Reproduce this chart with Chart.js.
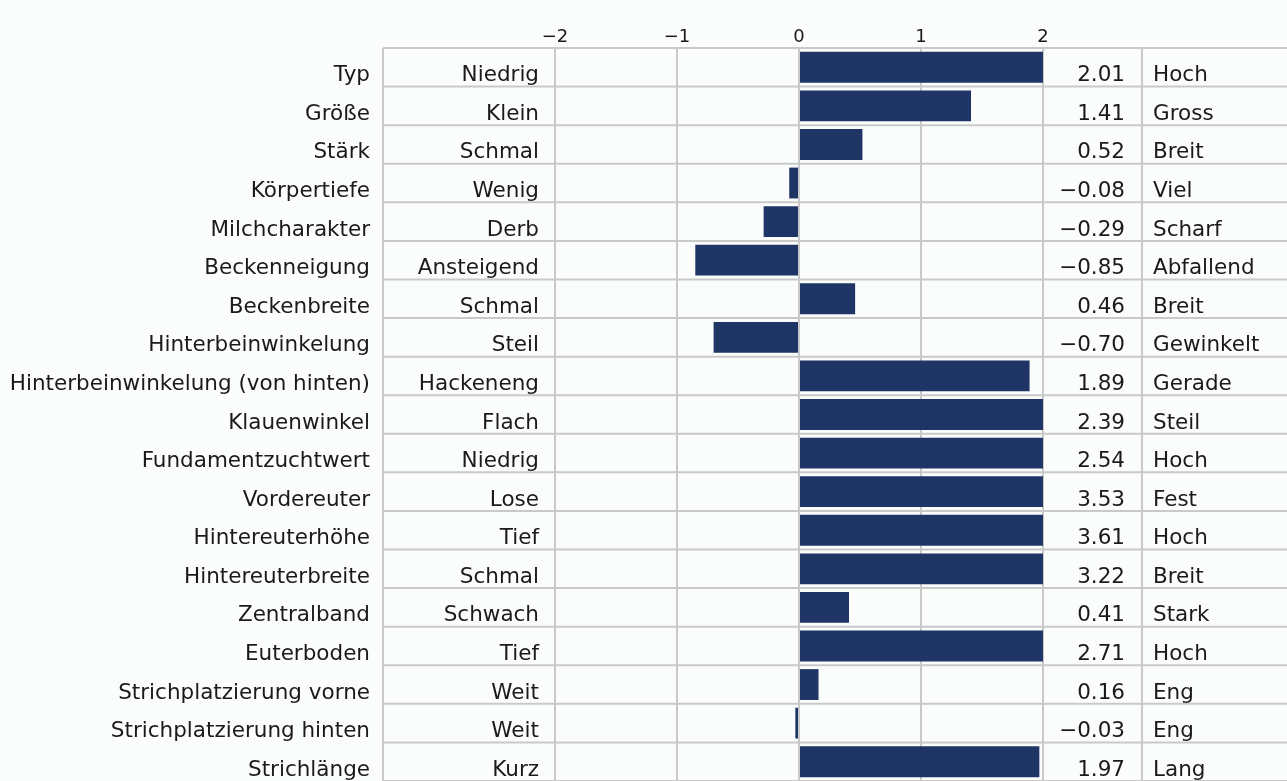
<!DOCTYPE html>
<html>
<head>
<meta charset="utf-8">
<script src="https://cdn.jsdelivr.net/npm/chart.js@4"></script>
<style>
  html, body { margin: 0; padding: 0; background: #fbfcfc; overflow: hidden; }
  #wrap { width: 1287px; height: 781px; position: relative; }
</style>
</head>
<body>
<div id="wrap"><canvas id="traitChart"></canvas></div>
<script>
    // ======== Data ========
    const traits = ['Typ', 'Größe', 'Stärk', 'Körpertiefe', 'Milchcharakter', 'Beckenneigung',
      'Beckenbreite', 'Hinterbeinwinkelung', 'Hinterbeinwinkelung (von hinten)', 'Klauenwinkel',
      'Fundamentzuchtwert', 'Vordereuter', 'Hintereuterhöhe', 'Hintereuterbreite', 'Zentralband',
      'Euterboden', 'Strichplatzierung vorne', 'Strichplatzierung hinten', 'Strichlänge'];
    const lowLabels = ['Niedrig', 'Klein', 'Schmal', 'Wenig', 'Derb', 'Ansteigend', 'Schmal', 'Steil',
      'Hackeneng', 'Flach', 'Niedrig', 'Lose', 'Tief', 'Schmal', 'Schwach', 'Tief', 'Weit', 'Weit', 'Kurz'];
    const highLabels = ['Hoch', 'Gross', 'Breit', 'Viel', 'Scharf', 'Abfallend', 'Breit', 'Gewinkelt',
      'Gerade', 'Steil', 'Hoch', 'Fest', 'Hoch', 'Breit', 'Stark', 'Hoch', 'Eng', 'Eng', 'Lang'];
    const values = [2.01, 1.41, 0.52, -0.08, -0.29, -0.85, 0.46, -0.70, 1.89, 2.39,
      2.54, 3.53, 3.61, 3.22, 0.41, 2.71, 0.16, -0.03, 1.97];
    const xTicks = [-2, -1, 0, 1, 2];

    // ======== Look ========
    const BAR = '#1f3566';
    const GRID = '#c9c9c9';
    const TEXT = '#1a1a1a';
    const FONT = '21.5px "DejaVu Sans"';

    // table column positions (px)
    const TRAIT_RIGHT = 370;
    const LOW_LEFT = 383;
    const LOW_RIGHT = 539;
    const VALUE_RIGHT = 1125;
    const SPLIT = 1142;
    const HIGH_LEFT = 1153;

    function fmt(v, digits) {
      const s = Math.abs(v).toFixed(digits);
      return v < 0 ? '\u2212' + s : s;
    }

    // ======== Table plugin: rows, columns and text ========
    const tablePlugin = {
      id: 'traitTable',
      beforeDatasetsDraw(chart) {
        const { ctx, chartArea: a } = chart;
        const band = (a.bottom - a.top) / traits.length;
        ctx.save();
        ctx.strokeStyle = GRID;
        ctx.lineWidth = 2;
        ctx.beginPath();
        for (let i = 0; i <= traits.length; i++) {
          const yy = a.top + i * band;
          ctx.moveTo(LOW_LEFT, yy);
          ctx.lineTo(chart.width, yy);
        }
        [LOW_LEFT, SPLIT].forEach(x => { ctx.moveTo(x, a.top); ctx.lineTo(x, a.bottom); });
        ctx.stroke();
        ctx.restore();
      },
      afterDraw(chart) {
        const { ctx, scales: { y } } = chart;
        ctx.save();
        ctx.font = FONT;
        ctx.fillStyle = TEXT;
        ctx.textBaseline = 'alphabetic';
        traits.forEach((t, i) => {
          const yy = y.getPixelForValue(i) + 14;
          ctx.textAlign = 'right';
          ctx.fillText(t, TRAIT_RIGHT, yy);
          ctx.fillText(lowLabels[i], LOW_RIGHT, yy);
          ctx.fillText(fmt(values[i], 2), VALUE_RIGHT, yy);
          ctx.textAlign = 'left';
          ctx.fillText(highLabels[i], HIGH_LEFT, yy);
        });
        ctx.restore();
      }
    };

    // ======== Chart.js Setup ========
    Chart.defaults.font.family = '"DejaVu Sans"';
    Chart.defaults.color = TEXT;

    const ctx = document.getElementById('traitChart').getContext('2d');
    const chart = new Chart(ctx, {
      type: 'bar',
      data: {
        labels: traits,
        datasets: [{
          data: values,
          backgroundColor: BAR,
          borderWidth: 0,
          barPercentage: 0.8,
          categoryPercentage: 1
        }]
      },
      options: {
        indexAxis: 'y',
        responsive: true,
        maintainAspectRatio: false,
        animation: false,
        layout: { padding: { left: 555, right: 244, top: 0, bottom: 0 } },
        plugins: { legend: { display: false }, tooltip: { enabled: false } },
        scales: {
          x: {
            position: 'top',
            min: xTicks[0],
            max: xTicks[xTicks.length - 1],
            afterBuildTicks: (scale) => { scale.ticks = xTicks.map(v => ({ value: v })); },
            afterFit: (scale) => { scale.height = 48; },
            ticks: {
              padding: 0,
              color: TEXT,
              font: { family: '"DejaVu Sans"', size: 18 },
              callback: (v) => fmt(v, 0)
            },
            grid: { color: GRID, lineWidth: 2, drawTicks: false },
            border: { color: GRID, width: 2 }
          },
          y: { display: false }
        }
      },
      plugins: [tablePlugin]
    });
</script>
</body>
</html>
